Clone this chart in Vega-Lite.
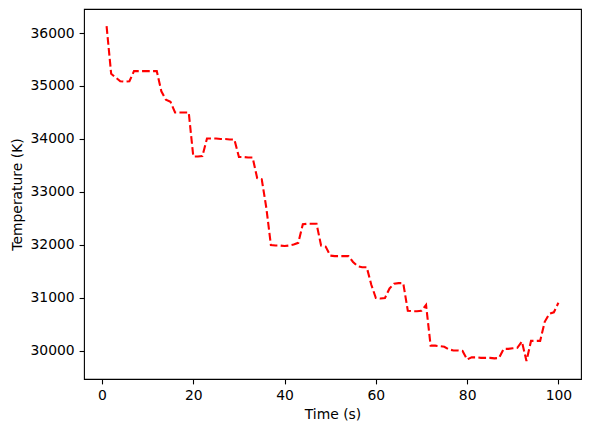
{
  "$schema": "https://vega.github.io/schema/vega-lite/v6.json",
  "width": 497,
  "height": 370,
  "autosize": "none",
  "padding": {"left": 84, "top": 9, "right": 8, "bottom": 53},
  "background": "white",
  "config": {
    "font": "DejaVu Sans",
    "view": {"stroke": "black", "strokeWidth": 1.1},
    "axis": {
      "grid": false,
      "domain": false,
      "labelFont": "DejaVu Sans",
      "titleFont": "DejaVu Sans",
      "labelFontSize": 13.9,
      "titleFontSize": 13.9,
      "titleFontWeight": "normal",
      "labelColor": "black",
      "titleColor": "black",
      "tickColor": "black",
      "tickSize": 4.9,
      "tickWidth": 1.1,
      "labelPadding": 4.9
    }
  },
  "data": {
    "values": [
      {"t": 1, "T": 36130}, {"t": 2, "T": 35230}, {"t": 3, "T": 35160}, {"t": 4, "T": 35090},
      {"t": 5, "T": 35080}, {"t": 6, "T": 35090}, {"t": 7, "T": 35280}, {"t": 8, "T": 35280},
      {"t": 9, "T": 35280}, {"t": 10, "T": 35280}, {"t": 11, "T": 35280}, {"t": 12, "T": 35280},
      {"t": 13, "T": 34900}, {"t": 14, "T": 34740}, {"t": 15, "T": 34700}, {"t": 16, "T": 34500},
      {"t": 17, "T": 34500}, {"t": 18, "T": 34500}, {"t": 19, "T": 34500}, {"t": 20, "T": 33670},
      {"t": 21, "T": 33670}, {"t": 22, "T": 33680}, {"t": 23, "T": 34010}, {"t": 24, "T": 34010},
      {"t": 25, "T": 34010}, {"t": 26, "T": 34000}, {"t": 27, "T": 34000}, {"t": 28, "T": 33990},
      {"t": 29, "T": 33990}, {"t": 30, "T": 33660}, {"t": 31, "T": 33660}, {"t": 32, "T": 33650},
      {"t": 33, "T": 33650}, {"t": 34, "T": 33260}, {"t": 35, "T": 33240}, {"t": 36, "T": 32700},
      {"t": 37, "T": 32000}, {"t": 38, "T": 31990}, {"t": 39, "T": 31990}, {"t": 40, "T": 31980},
      {"t": 41, "T": 31990}, {"t": 42, "T": 32010}, {"t": 43, "T": 32040}, {"t": 44, "T": 32390},
      {"t": 45, "T": 32400}, {"t": 46, "T": 32400}, {"t": 47, "T": 32400}, {"t": 48, "T": 31990},
      {"t": 49, "T": 31970}, {"t": 50, "T": 31800}, {"t": 51, "T": 31790}, {"t": 52, "T": 31790},
      {"t": 53, "T": 31790}, {"t": 54, "T": 31790}, {"t": 55, "T": 31680}, {"t": 56, "T": 31600},
      {"t": 57, "T": 31580}, {"t": 58, "T": 31580}, {"t": 59, "T": 31250}, {"t": 60, "T": 31000},
      {"t": 61, "T": 30990}, {"t": 62, "T": 31000}, {"t": 63, "T": 31180}, {"t": 64, "T": 31270},
      {"t": 65, "T": 31280}, {"t": 66, "T": 31280}, {"t": 67, "T": 30760}, {"t": 68, "T": 30750},
      {"t": 69, "T": 30750}, {"t": 70, "T": 30760}, {"t": 71, "T": 30870}, {"t": 72, "T": 30100},
      {"t": 73, "T": 30100}, {"t": 74, "T": 30090}, {"t": 75, "T": 30080}, {"t": 76, "T": 30030},
      {"t": 77, "T": 30010}, {"t": 78, "T": 30010}, {"t": 79, "T": 30000}, {"t": 80, "T": 29840},
      {"t": 81, "T": 29880}, {"t": 82, "T": 29880}, {"t": 83, "T": 29870}, {"t": 84, "T": 29870},
      {"t": 85, "T": 29870}, {"t": 86, "T": 29860}, {"t": 87, "T": 29870}, {"t": 88, "T": 30040},
      {"t": 89, "T": 30040}, {"t": 90, "T": 30050}, {"t": 91, "T": 30060}, {"t": 92, "T": 30180},
      {"t": 93, "T": 29810}, {"t": 94, "T": 30190}, {"t": 95, "T": 30190}, {"t": 96, "T": 30190},
      {"t": 97, "T": 30550}, {"t": 98, "T": 30700}, {"t": 99, "T": 30730}, {"t": 100, "T": 30910}
    ]
  },
  "mark": {
    "type": "line",
    "color": "#ff0000",
    "strokeWidth": 2.1,
    "strokeDash": [7.7, 3.3],
    "interpolate": "linear"
  },
  "encoding": {
    "x": {
      "field": "t",
      "type": "quantitative",
      "title": "Time (s)",
      "scale": {"domain": [-3.95, 104.95], "nice": false, "zero": false},
      "axis": {"values": [0, 20, 40, 60, 80, 100], "titlePadding": 5}
    },
    "y": {
      "field": "T",
      "type": "quantitative",
      "title": "Temperature (K)",
      "scale": {"domain": [29471, 36453], "nice": false, "zero": false},
      "axis": {"values": [30000, 31000, 32000, 33000, 34000, 35000, 36000], "format": "d", "titlePadding": 6}
    }
  }
}
